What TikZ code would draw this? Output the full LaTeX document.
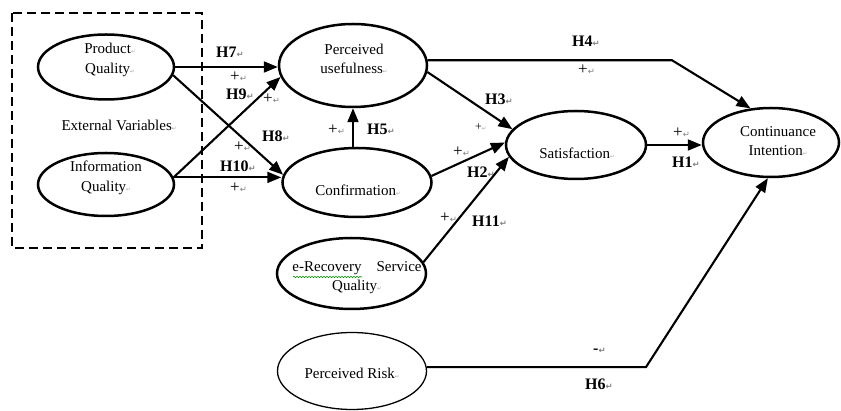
\documentclass[tikz,border=0pt]{standalone}
\usepackage{fontspec}
\setmainfont{Liberation Serif}
\newfontfamily\djv{DejaVu Sans}
\usetikzlibrary{arrows.meta,shapes.geometric,decorations.pathmorphing}
\newcommand\retm{{\djv\fontsize{8.5}{8.5}\selectfont\textcolor{gray}{↵}}}
\newcommand\celm{{\djv\fontsize{5.5}{5.5}\selectfont\textcolor{gray!70}{↵}}}
\begin{document}
\begin{tikzpicture}[x=1pt,y=-1pt,
  ell/.style={ellipse, draw, line width=2.5pt, inner sep=0pt},
  eltxt/.style={font=\fontsize{15}{19.5}\selectfont, align=center, inner sep=0pt},
  hlab/.style={font=\fontsize{16}{16}\selectfont\bfseries, anchor=base west, inner sep=0pt},
  plab/.style={font=\fontsize{17}{17}\selectfont, anchor=base west, inner sep=0pt},
  arr/.style={line width=2.1pt, -{Triangle[length=14pt,width=11pt]}}]
\fill[white] (0,0) rectangle (841,411);
\useasboundingbox (0,0) rectangle (841,411);
% external variables box
\draw[line width=2.5pt, dash pattern=on 9pt off 5pt] (12,13) rectangle (202,248);
% ellipses
\node[ell, minimum width=136pt, minimum height=65pt] (pq) at (106,67) {};
\node[ell, minimum width=136pt, minimum height=63pt] (iq) at (106,184.5) {};
\node[ell, minimum width=148pt, minimum height=83pt] (pu) at (353,65.5) {};
\node[ell, minimum width=149pt, minimum height=69pt] (conf) at (357,182.5) {};
\node[ell, minimum width=140pt, minimum height=68pt] (sat) at (576,145) {};
\node[ell, minimum width=136pt, minimum height=69pt] (ci) at (771,142.5) {};
\node[ell, minimum width=149pt, minimum height=71pt] (er) at (351.5,273.5) {};
\node[ellipse, draw, line width=1.3pt, inner sep=0pt, minimum width=149pt, minimum height=77pt] (pr) at (352,371) {};
% ellipse texts
\node[eltxt] (pqt) at (110,60) {Product\celm\\Quality\celm};
\node[eltxt] (iqt) at (106,178) {Information\\Quality\celm};
\node[eltxt] (ext) at (119,125) {External Variables\celm};
\node[eltxt] (put) at (354,59) {Perceived\\usefulness\celm};
\node[eltxt] (conft) at (358,190) {Confirmation\celm};
\node[eltxt] (satt) at (577,153) {Satisfaction\celm};
\node[eltxt] (cit) at (778,141) {Continuance\\Intention\celm};
\node[eltxt] (ert) at (357,277.5) {e-Recovery\quad Service\\Quality\celm};
\node[eltxt] (prt) at (352,373) {Perceived Risk\celm};
\draw[green!55!black, line width=0.6pt, decorate, decoration={snake, amplitude=0.7pt, segment length=3pt}] (293,277) -- (362,277);
% hypothesis labels
\node[hlab] (h7) at (216,58) {H7\retm};
\node[plab] (s7) at (230,82) {+\retm};
\node[hlab] (h9) at (226,100) {H9\retm};
\node[plab] (s9) at (263,104) {+\retm};
\node[hlab] (h8) at (262,142) {H8\retm};
\node[plab] (s8) at (234,152) {+\retm};
\node[hlab] (h10) at (220,172) {H10\retm};
\node[plab] (s10) at (230,193) {+\retm};
\node[plab] (s5) at (328,135) {+\retm};
\node[hlab] (h5) at (367,135) {H5\retm};
\node[hlab] (h3) at (485,105) {H3\retm};
\node[plab, font=\fontsize{12}{12}\selectfont] (s3) at (475,131) {+\celm};
\node[plab] (s2) at (453,157) {+\retm};
\node[hlab] (h2) at (467,178) {H2\retm};
\node[plab] (s11) at (440,223) {+\retm};
\node[hlab] (h11) at (472,227) {H11\retm};
\node[hlab] (h4) at (572,47) {H4\retm};
\node[plab] (s4) at (578,75) {+\retm};
\node[plab] (s1) at (673,138) {+\retm};
\node[hlab] (h1) at (672,168) {H1\retm};
\node[hlab] (s6) at (593,354) {-\retm};
\node[hlab] (h6) at (585,390) {H6\retm};
% connectors
\coordinate (h4c) at (672,0);
\coordinate (h6c) at (646,0);
\draw[arr] (pq.east) -- (pq.east -| pu.west);
\draw[arr] (pq.-7) -- (conf.174);
\draw[arr] (iq.6) -- (pu.189);
\draw[arr] (iq.6) -- (iq.6 -| conf.west);
\draw[arr] (pu.south |- conf.north) -- (pu.south);
\draw[arr] (pu.-5) -- (sat.166);
\draw[arr] (conf.5) -- (sat.178);
\draw[arr] (er.9) -- (sat.190);
\draw[arr] (pu.4) -- (pu.4 -| h4c) -- (ci.121);
\draw[arr] (sat.east) -- (sat.east -| ci.west);
\draw[arr] (pr.3) -- (pr.3 -| h6c) -- (ci.265);
\end{tikzpicture}
\end{document}
